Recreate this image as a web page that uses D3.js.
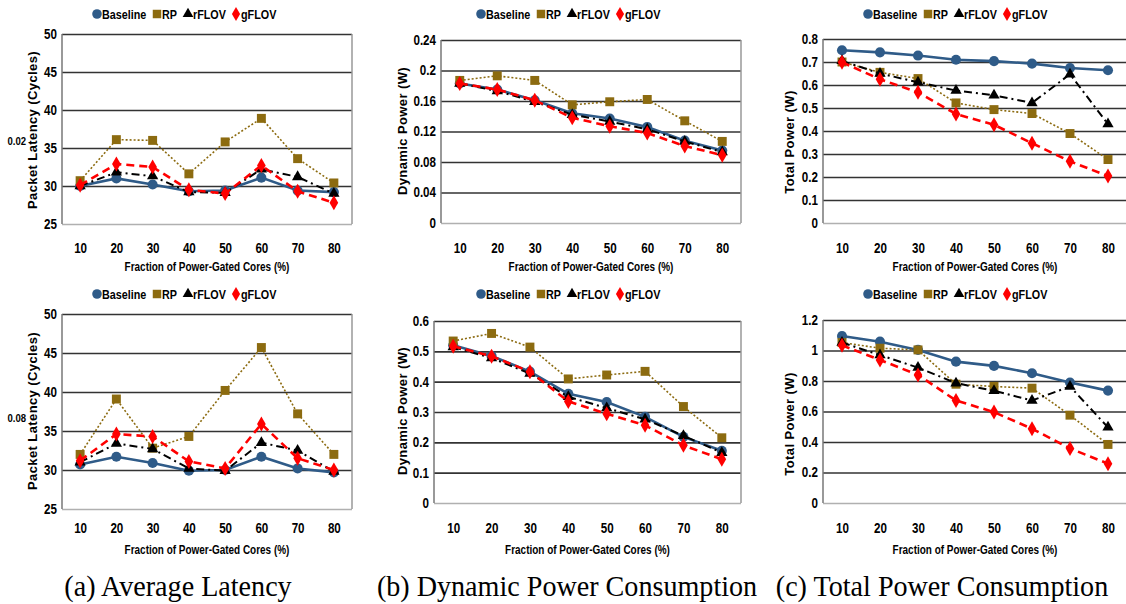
<!DOCTYPE html>
<html>
<head>
<meta charset="UTF-8">
<style>
body { margin: 0; background: white; }
svg { display: block; }
</style>
</head>
<body>
<script src="https://cdn.jsdelivr.net/npm/d3@7"></script>
<script>

// ---- data ----
var categories = [10, 20, 30, 40, 50, 60, 70, 80]
var seriesNames = ['Baseline', 'RP', 'rFLOV', 'gFLOV']

// (a) average latency, top and bottom rows
var latTopBaseline = [30.0, 31.0, 30.2, 29.3, 29.4, 31.1, 29.4, 29.2]
var latTopRP       = [30.7, 36.1, 36.0, 31.6, 35.8, 38.9, 33.6, 30.4]
var latTopRFLOV    = [30.0, 31.8, 31.3, 29.2, 29.1, 32.2, 31.2, 29.0]
var latTopGFLOV    = [30.1, 32.9, 32.5, 29.5, 29.0, 32.7, 29.3, 27.8]

var latBotBaseline = [30.7, 31.7, 30.9, 29.9, 30.0, 31.7, 30.2, 29.7]
var latBotRP       = [32.0, 39.1, 32.8, 34.3, 40.2, 45.7, 37.2, 32.0]
var latBotRFLOV    = [31.0, 33.4, 32.7, 30.2, 29.9, 33.5, 32.5, 29.8]
var latBotGFLOV    = [31.2, 34.6, 34.3, 31.1, 30.2, 35.9, 31.5, 30.0]

// (b) dynamic power
var dynTopBaseline = [0.183, 0.175, 0.161, 0.144, 0.137, 0.126, 0.108, 0.095]
var dynTopRP       = [0.187, 0.193, 0.187, 0.155, 0.159, 0.162, 0.134, 0.107]
var dynTopRFLOV    = [0.183, 0.173, 0.159, 0.142, 0.133, 0.123, 0.107, 0.093]
var dynTopGFLOV    = [0.183, 0.175, 0.161, 0.138, 0.127, 0.118, 0.101, 0.089]

var dynBotBaseline = [0.520, 0.485, 0.433, 0.360, 0.333, 0.284, 0.218, 0.172]
var dynBotRP       = [0.534, 0.559, 0.514, 0.409, 0.422, 0.434, 0.318, 0.215]
var dynBotRFLOV    = [0.514, 0.478, 0.427, 0.350, 0.313, 0.276, 0.222, 0.166]
var dynBotGFLOV    = [0.517, 0.484, 0.433, 0.335, 0.294, 0.256, 0.190, 0.144]

// (c) total power
var totTopBaseline = [0.751, 0.742, 0.728, 0.710, 0.704, 0.693, 0.674, 0.664]
var totTopRP       = [0.700, 0.655, 0.628, 0.522, 0.493, 0.476, 0.389, 0.276]
var totTopRFLOV    = [0.705, 0.650, 0.612, 0.576, 0.555, 0.522, 0.647, 0.430]
var totTopGFLOV    = [0.699, 0.625, 0.568, 0.474, 0.427, 0.347, 0.268, 0.204]

var totBotBaseline = [1.095, 1.058, 1.004, 0.927, 0.899, 0.851, 0.790, 0.737]
var totBotRP       = [1.052, 1.015, 1.004, 0.779, 0.764, 0.753, 0.576, 0.384]
var totBotRFLOV    = [1.052, 0.970, 0.888, 0.786, 0.736, 0.672, 0.764, 0.496]
var totBotGFLOV    = [1.034, 0.938, 0.840, 0.672, 0.596, 0.487, 0.358, 0.258]

// tick labels
var latencyTicks = [25, 30, 35, 40, 45, 50]
var dynTopTicks  = [0, 0.04, 0.08, 0.12, 0.16, 0.2, 0.24]
var dynBotTicks  = [0, 0.1, 0.2, 0.3, 0.4, 0.5, 0.6]
var totTopTicks  = [0, 0.1, 0.2, 0.3, 0.4, 0.5, 0.6, 0.7, 0.8]
var totBotTicks  = [0, 0.2, 0.4, 0.6, 0.8, 1, 1.2]

var captions = ['(a) Average Latency', '(b) Dynamic Power Consumption', '(c) Total Power Consumption']
var xTitle = 'Fraction of Power-Gated Cores (%)'

// ---- styles ----
var sans = '"Liberation Sans", Arial, sans-serif'
    squeeze = 'scale(0.83,1)'
    styles = [
      {color: '#2f5b88', width: 2.6, dash: null,       symbol: d3.symbolCircle,   size: 80},
      {color: '#8c6b10', width: 1.6, dash: '2,2',      symbol: d3.symbolSquare,   size: 80},
      {color: '#000000', width: 2.0, dash: '8,4,2,4',  symbol: d3.symbolTriangle, size: 55},
      {color: '#ff0000', width: 2.6, dash: '8,5',      symbol: d3.symbolDiamond,  size: 65}
    ]
    legendOffsets = [0, 60, 91, 139]

var panels = [
  {x0: 62,  x1: 352,  y0: 34,  y1: 224, ticks: latencyTicks, yTitle: 'Packet Latency (Cycles)',
   tx: 32, ty: 130, lx: 97, ly: 14, xl: 248, xt: 267, note: '0.02', ny: 141,
   data: [latTopBaseline, latTopRP, latTopRFLOV, latTopGFLOV]},
  {x0: 441, x1: 741,  y0: 40,  y1: 223, ticks: dynTopTicks, yTitle: 'Dynamic Power (W)',
   tx: 402, ty: 131, lx: 481, ly: 14, xl: 248, xt: 267,
   data: [dynTopBaseline, dynTopRP, dynTopRFLOV, dynTopGFLOV]},
  {x0: 823, x1: 1127, y0: 39,  y1: 223, ticks: totTopTicks, yTitle: 'Total Power (W)',
   tx: 789, ty: 142, lx: 868, ly: 14, xl: 248, xt: 267,
   data: [totTopBaseline, totTopRP, totTopRFLOV, totTopGFLOV]},
  {x0: 62,  x1: 352,  y0: 314, y1: 509, ticks: latencyTicks, yTitle: 'Packet Latency (Cycles)',
   tx: 32, ty: 411, lx: 97, ly: 294, xl: 528, xt: 550, note: '0.08', ny: 418,
   data: [latBotBaseline, latBotRP, latBotRFLOV, latBotGFLOV]},
  {x0: 434, x1: 741,  y0: 321, y1: 503, ticks: dynBotTicks, yTitle: 'Dynamic Power (W)',
   tx: 402, ty: 411, lx: 481, ly: 294, xl: 528, xt: 550,
   data: [dynBotBaseline, dynBotRP, dynBotRFLOV, dynBotGFLOV]},
  {x0: 823, x1: 1127, y0: 320, y1: 503, ticks: totBotTicks, yTitle: 'Total Power (W)',
   tx: 789, ty: 424, lx: 868, ly: 294, xl: 528, xt: 550,
   data: [totBotBaseline, totBotRP, totBotRFLOV, totBotGFLOV]}
]

var svg = d3.select('body').append('svg')
    .attr('width', 1126)
    .attr('height', 604)

panels.forEach(function(p) {
    var g = svg.append('g')

    var xScale = d3.scalePoint().domain(categories).range([p.x0, p.x1]).padding(0.5)
    var yScale = d3.scaleLinear().domain(d3.extent(p.ticks)).range([p.y1, p.y0])

    // y axis with gridlines
    var yAxis = d3.axisLeft(yScale)
        .tickValues(p.ticks)
        .tickFormat(d3.format('~g'))
        .tickSize(-(p.x1 - p.x0))
        .tickPadding(6)

    var ya = g.append('g')
        .attr('transform', 'translate(' + p.x0 + ',0)')
        .call(yAxis)
    ya.select('.domain').remove()
    ya.selectAll('line')
        .attr('stroke', (d, i) => i == 0 ? '#b0b0b0' : '#333')
        .attr('stroke-width', 1.7)
    ya.selectAll('text')
        .attr('fill', '#000')
        .style('font', 'bold 14px ' + sans)
        .attr('transform', squeeze)

    // frame sides
    g.append('line').attr('x1', p.x0).attr('x2', p.x0).attr('y1', p.y0).attr('y2', p.y1)
        .attr('stroke', '#777').attr('stroke-width', 1.5)
    g.append('line').attr('x1', p.x1).attr('x2', p.x1).attr('y1', p.y0).attr('y2', p.y1)
        .attr('stroke', '#999').attr('stroke-width', 1.5)

    // x axis labels
    var xa = g.append('g')
        .attr('transform', 'translate(0,' + p.y1 + ')')
        .call(d3.axisBottom(xScale).tickSize(0))
    xa.select('.domain').remove()
    xa.selectAll('text')
        .attr('y', p.xl - p.y1 + 5)
        .attr('dy', null)
        .attr('fill', '#000')
        .style('font', 'bold 14px ' + sans)
        .attr('transform', squeeze)

    // x title
    g.append('text')
        .attr('transform', 'translate(' + ((p.x0 + p.x1) / 2) + ',' + (p.xt + 4) + ') ' + squeeze)
        .attr('text-anchor', 'middle')
        .style('font', 'bold 12px ' + sans)
        .text(xTitle)

    // y title
    g.append('text')
        .attr('transform', 'translate(' + p.tx + ',' + p.ty + ') rotate(-90)')
        .attr('text-anchor', 'middle')
        .attr('dy', '0.35em')
        .style('font', 'bold 13px ' + sans)
        .style('letter-spacing', '0.4px')
        .text(p.yTitle)

    if (p.note) {
        g.append('text')
            .attr('transform', 'translate(26,' + (p.ny + 4) + ') ' + squeeze)
            .attr('text-anchor', 'end')
            .style('font', 'bold 11.5px ' + sans)
            .text(p.note)
    }

    // series
    var line = d3.line()
        .x((d, i) => xScale(categories[i]))
        .y(d => yScale(d))

    p.data.forEach(function(vals, k) {
        var s = styles[k]
        g.append('path')
            .datum(vals)
            .attr('d', line)
            .attr('fill', 'none')
            .attr('stroke', s.color)
            .attr('stroke-width', s.width)
            .attr('stroke-dasharray', s.dash)

        g.selectAll('.m' + k)
            .data(vals)
            .enter().append('path')
            .attr('class', 'm' + k)
            .attr('d', d3.symbol().type(s.symbol).size(s.size))
            .attr('transform', (d, i) => 'translate(' + xScale(categories[i]) + ',' + yScale(d) + ')')
            .attr('fill', s.color)
    })

    // legend
    seriesNames.forEach(function(name, k) {
        var s = styles[k]
            lx = p.lx + legendOffsets[k]
        g.append('path')
            .attr('d', d3.symbol().type(s.symbol).size(s.size * 0.9))
            .attr('transform', 'translate(' + lx + ',' + p.ly + ')')
            .attr('fill', s.color)
        g.append('text')
            .attr('transform', 'translate(' + (lx + 5) + ',' + (p.ly + 4.5) + ') ' + squeeze)
            .style('font', 'bold 13px ' + sans)
            .text(name)
    })
})

// captions
var capX = [178, 567, 942]
captions.forEach(function(c, i) {
    svg.append('text')
        .attr('transform', 'translate(' + capX[i] + ',596) scale(0.97,1)')
        .attr('text-anchor', 'middle')
        .style('font', '29px "Liberation Serif", "Times New Roman", serif')
        .text(c)
})

</script>
</body>
</html>
